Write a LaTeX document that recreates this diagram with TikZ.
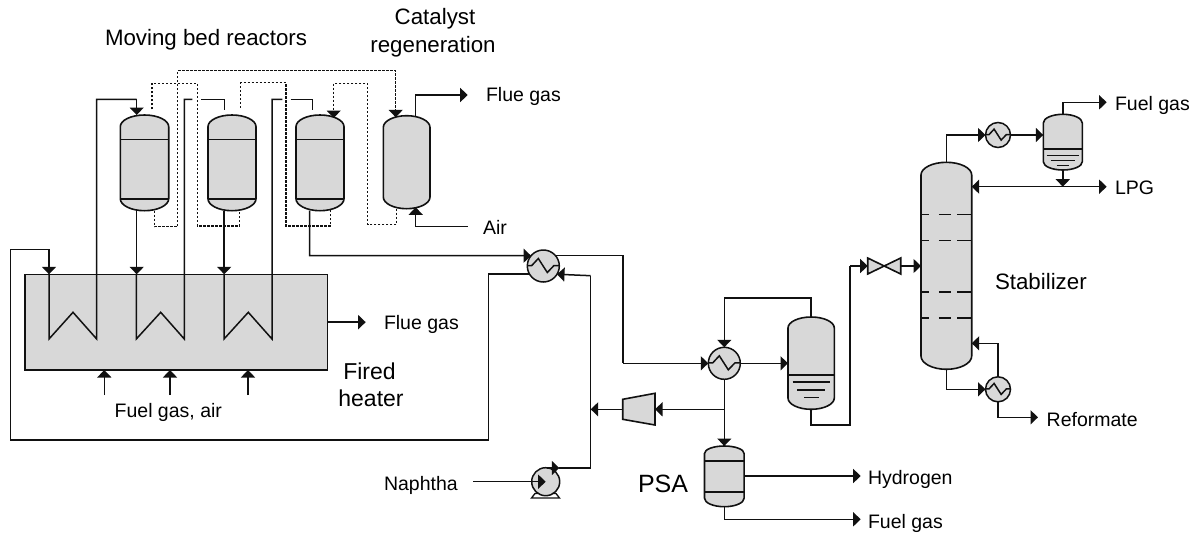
\documentclass[tikz,border=0pt]{standalone}
\usepackage{fontspec}
\setmainfont{Liberation Sans}
\usetikzlibrary{arrows.meta}
\definecolor{eqfill}{HTML}{D8D8D8}
\definecolor{ink}{HTML}{111111}
\tikzset{
  pipe/.style={line width=1.5pt,draw=ink,line join=miter},
  flow/.style={pipe,-{Triangle[length=7.5pt,width=14pt]}},
  dotpipe/.style={line width=1.5pt,draw=ink,dash pattern=on 2.2pt off 1.8pt},
  dotflow/.style={dotpipe,-{Triangle[length=7.5pt,width=14pt]}},
  shell/.style={line width=1.6pt,draw=ink,fill=eqfill},
  band/.style={line width=1.6pt,draw=ink},
  anchorbox/.style={inner sep=0pt,outer sep=0pt,draw=none},
  hxbody/.style={circle,inner sep=0pt,outer sep=0pt,line width=1.5pt,draw=ink,fill=eqfill},
  lab/.style={inner sep=0pt,outer sep=0pt,anchor=base west,font=\fontsize{19.5}{22}\selectfont},
  labm/.style={lab,font=\fontsize{22.3}{26}\selectfont},
  tray/.style={line width=1.5pt,draw=ink,dash pattern=on 8.3pt off 9.5pt on 11.7pt off 6.7pt on 14.5pt off 1pt},
}
% name, x1, y1, x2, y2, top shoulder, bottom shoulder
\newcommand{\vesselshape}[7]{%
  \pgfmathsetmacro{\rx}{(#4-#2)/2}%
  \pgfmathsetmacro{\cxx}{(#4+#2)/2}%
  \pgfmathsetmacro{\cyy}{(#5+#3)/2}%
  \pgfmathsetmacro{\hh}{#5-#3}%
  \pgfmathsetmacro{\ww}{#4-#2}%
  \draw[shell] (#2,{#3+#6}) arc[start angle=180,end angle=0,x radius=\rx pt,y radius=#6 pt]
     -- (#4,{#5-#7}) arc[start angle=0,end angle=-180,x radius=\rx pt,y radius=#7 pt] -- cycle;
  \node[anchorbox,minimum width=\ww pt,minimum height=\hh pt] (#1) at (\cxx,\cyy) {};%
}
\newcommand{\hxshape}[4]{%
  \pgfmathsetmacro{\dd}{2*#4}%
  \node[hxbody,minimum size=\dd pt] (#1) at (#2,#3) {};
  \begin{scope}[shift={(#2,#3)},scale=#4/16]
    \draw[pipe] (-15.5,-.5) -- (-11.5,-.5) -- (-5,-7.5) -- (4,6.5) -- (10.7,-.5) -- (15.5,-.5);
  \end{scope}%
}
\begin{document}
\begin{tikzpicture}[x=1pt,y=-1pt]
\useasboundingbox (0,0) rectangle (1199,533);
\vesselshape{r1}{120.3}{115}{168.7}{210.7}{11.7}{12}
\vesselshape{r2}{208}{115}{256}{210.7}{11.7}{12}
\vesselshape{r3}{296}{115}{344}{210.7}{11.7}{12}
\vesselshape{reg}{383.3}{115.7}{430}{208.7}{11.7}{11.7}
\draw[band] (120.3,139.3) -- (168.7,139.3) (120.3,198.7) -- (168.7,198.7);
\draw[band] (208,139.3) -- (256,139.3) (208,198.7) -- (256,198.7);
\draw[band] (296,139.3) -- (344,139.3) (296,198.7) -- (344,198.7);
% heater
\node[anchorbox,draw=ink,line width=1.5pt,fill=eqfill,minimum width=302.7pt,minimum height=95.7pt] (heater) at (176.35,322.15) {};
% drum
\vesselshape{sep}{788}{317}{834.3}{409.3}{11}{11.3}
\draw[band] (788,374.7) -- (834.3,374.7);
\draw[pipe] (792.7,382) -- (830,382) (797,390) -- (825,390) (804,397.7) -- (818.7,397.7);
% PSA
\vesselshape{psa}{704.5}{446}{744.1}{506.7}{7.5}{8.5}
\draw[band] (704.5,460.7) -- (744.1,460.7) (704.5,491.7) -- (744.1,491.7);
% stabilizer
\vesselshape{stab}{921}{162.3}{971.7}{369.3}{12.7}{13.3}
\draw[tray] (921,214.3) -- (971.7,214.3);
\draw[tray] (921,240.3) -- (971.7,240.3);
\draw[tray] (921,292) -- (971.7,292);
\draw[tray] (921,318) -- (971.7,318);
% overhead drum
\vesselshape{ovh}{1043.3}{114.3}{1082.3}{170}{8.7}{8.3}
\draw[band] (1043.3,149) -- (1082.3,149);
\draw[pipe] (1046.7,155.3) -- (1079,155.3) (1050.7,160.3) -- (1075,160.3) (1056.7,165.7) -- (1069,165.7);
% compressor
\draw[shell] (622.7,399.3) -- (655,393.3) -- (655,425) -- (622.7,419.3) -- cycle;
\node[anchorbox,minimum width=32.3pt,minimum height=31.7pt] (comp) at (638.85,409.3) {};
% valve
\draw[shell] (867.7,258) -- (900.7,274) -- (900.7,258) -- (867.7,274) -- cycle;
\node[anchorbox,minimum width=33pt,minimum height=16pt] (valve) at (884.2,266) {};
% exchangers and pump
\hxshape{hxa}{543.3}{266}{16}
\hxshape{hxb}{724.3}{363.3}{16}
\hxshape{hxc}{998}{135}{12.5}
\hxshape{hxd}{998}{389.3}{12.5}
\draw[line width=1.3pt,draw=ink,fill=white] (535,493.5) -- (531.5,498) -- (559.5,498) -- (556,493.5) -- cycle;
\node[hxbody,minimum size=28pt] (pump) at (545.7,481.7) {};

% furnace coils
\draw[pipe] ([xshift=-127.35pt]heater.north) -- (49,339) -- (73,312.3) -- (96.7,339) -- (96.7,99.3) -- (136.7,99.3);
\draw[pipe] ([xshift=-40pt]heater.north) -- (136.3,339) -- (160.7,312.3) -- (184.3,339) -- (184.3,99.3) -- (192.3,99.3);
\draw[pipe] ([xshift=47.65pt]heater.north) -- (224,339) -- (248.3,312.3) -- (272,339) -- (272,99.3) -- (282.3,99.3);
% dotted
\draw[dotpipe] (152,109.3) -- (152,83.3) -- (197.3,83.3) -- (197.3,226) -- (239.3,226) -- (239.3,210);
\draw[dotflow] (154.3,210.7) -- (154.3,226.7) -- (177.7,226.7) -- (177.7,70.7) -- (395.7,70.7) -- ([xshift=-10.95pt,yshift=-1.6pt]reg.north);
\draw[dotpipe] (240.7,107.7) -- (240.7,82.7) -- (286,82.7) -- (286,226) -- (330.7,226) -- (330.7,210);
\draw[dotflow] (396.7,208.7) -- (396.7,224.3) -- (367.7,224.3) -- (367.7,83.3) -- (333.7,83.3) -- (333.7,118);
% reactor pipes
\draw[flow] (136.7,99.3) -- ([xshift=-7.8pt]r1.north);
\draw[pipe] (201,99.3) -- (224.3,99.3) -- (224.3,110);
\draw[pipe] (290.7,99.3) -- (312.3,99.3) -- (312.3,110);
\draw[flow] ([xshift=-7.8pt]r1.south) -- (136.7,274.3);
\draw[flow] ([xshift=-7.8pt]r2.south) -- (224.2,274.3);
\draw[flow] ([xshift=-10.3pt]r3.south) -- (309.7,255.7) -- (hxa.140);
\draw[flow] (hxb.south) -- (psa.north);
% recycle
\draw[pipe] (hxa.211) -| (488.3,440) -- (10.7,440) -- (10.7,249.3) -- (49,249.3);
\draw[flow] (49,249.3) -- ([xshift=-127.35pt]heater.north);
% regenerator
\coordinate (fgtop) at (467.7,95);
\draw[flow] ([xshift=9.05pt]reg.north) |- (fgtop);
\node[lab] (fg1) at (486,101) {Flue gas};
\coordinate (air) at (467.7,226.7);
\draw[flow] (air) -| ([xshift=9.05pt,yshift=1.4pt]reg.south);
\node[lab] (airl) at (483,234) {Air};
% heater outlets
\coordinate (fgout) at (365.7,322.15);
\draw[flow] (heater.east) -- (fgout);
\node[lab] (fg2) at (384,329) {Flue gas};
\coordinate (b1) at (104.3,395);
\coordinate (b2) at (170,395);
\coordinate (b3) at (248,395);
\draw[flow] (b1) -- (b1 |- heater.south);
\draw[flow] (b2) -- (b2 |- heater.south);
\draw[flow] (b3) -- (b3 |- heater.south);
\node[lab,anchor=base] (fuelair) at (168.3,417) {Fuel gas, air};
\node[inner sep=0pt,outer sep=0pt,anchor=base,font=\fontsize{23}{27}\selectfont] (fired) at (369.5,379) {Fired};
\node[inner sep=0pt,outer sep=0pt,anchor=base,font=\fontsize{23}{27}\selectfont] (heaterl) at (371,406.7) {heater};
% feed effluent
\draw[pipe] (hxa.40) -| (623,363.3);
\draw[flow] (623,363.3) -- (hxb.west);
\draw[flow] (hxb.east) -- (sep.west |- hxb.east);
\draw[flow] (sep.north) |- (724.3,298) -- (hxb.north);
\draw[pipe] (sep.south) |- (850,425) -- (850,266);
\draw[flow] (850,266) -- (valve.west);
\draw[flow] (valve.east) -- (stab.west |- valve.east);
% compressor loop
\coordinate (tee) at (724.3,409.3);
\draw[flow] (tee) -- (comp.east);
\coordinate (join) at (590.7,409.3);
\draw[flow] (comp.west) -- (join);
% pump and naphtha
\coordinate (naph) at (473,481.7);
\draw[flow] (naph) -- (pump.center);
\node[lab] (naphl) at (384,490) {Naphtha};
\coordinate (pd) at (559.3,468);
\draw[flow] (547,468) -- (pd);
\draw[pipe] (pd) -| (590.7,275.7);
\draw[flow] (590.7,275.7) -- (hxa.329);
% PSA
\coordinate (h2) at (860.7,476);
\draw[flow] (psa.east |- h2) -- (h2);
\coordinate (fgp) at (860.7,519.3);
\draw[flow] (psa.south) |- (fgp);
\node[lab] (h2l) at (868,484) {Hydrogen};
\node[lab] (fg3) at (868,528) {Fuel gas};
\node[inner sep=0pt,outer sep=0pt,anchor=base west,font=\fontsize{25}{29}\selectfont] (psal) at (638,492) {PSA};
% stabilizer top
\draw[flow] (stab.north) |- (hxc.west);
\draw[flow] (hxc.east) -- (ovh.west |- hxc.east);
\coordinate (ftop) at (1106.7,102.3);
\draw[flow] (ovh.north) |- (ftop);
\coordinate (lpgt) at (1062.8,186.7);
\draw[flow] (ovh.south) -- (lpgt);
\coordinate (lpgr) at (1106.7,186.7);
\draw[flow] (lpgt) -- (lpgr);
\draw[flow] (lpgt) -- (stab.east |- lpgt);
\node[lab] (fg4) at (1115,110.7) {Fuel gas};
\node[lab] (lpgl) at (1115,194) {LPG};
% stabilizer bottom
\draw[flow] (stab.south) |- (hxd.west);
\coordinate (reb) at (971.7,343.3);
\draw[flow] (hxd.north) |- (reb);
\coordinate (refo) at (1038,417.3);
\draw[flow] (hxd.south) |- (refo);
\node[lab] (refl) at (1046.7,426.7) {Reformate};
\node[labm] (stabl) at (995,289) {Stabilizer};
% titles
\node[labm] (mbr) at (105,45) {Moving bed reactors};
\node[labm,anchor=base] (cat1) at (435,24) {Catalyst};
\node[labm,anchor=base] (cat2) at (433,52) {regeneration};
\end{tikzpicture}
\end{document}
